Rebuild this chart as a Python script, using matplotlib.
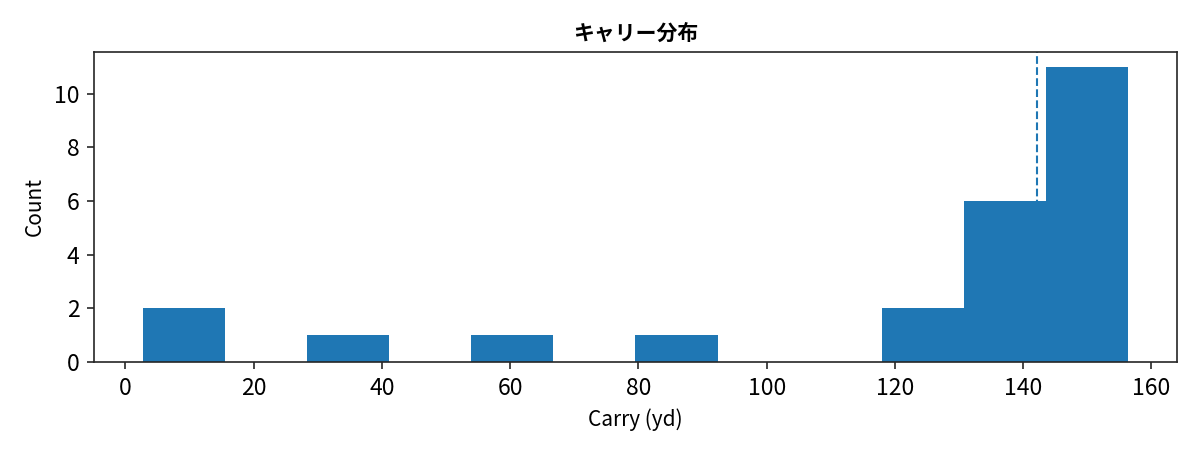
import matplotlib
matplotlib.use("Agg")
import matplotlib.pyplot as plt
import numpy as np

plt.rcParams['font.family'] = ['Noto Sans CJK JP', 'DejaVu Sans']

bin_edges = [2.8 + i * (156.3 - 2.8) / 12 for i in range(13)]
counts = [2, 0, 1, 0, 1, 0, 1, 0, 0, 2, 6, 11]
marker_x = 142.1

title = "キャリー分布"
xlabel = "Carry (yd)"
ylabel = "Count"

fig = plt.figure(figsize=(8, 3), dpi=150)
ax = fig.add_axes([94/1200, 1 - 362/450, (1177-94)/1200, (362-52)/450])

edges = np.array(bin_edges)
ax.hist(edges[:-1], bins=edges, weights=counts, color="#1f77b4", zorder=2)
ax.axvline(marker_x, color="#1f77b4", linestyle="--", linewidth=1.0, zorder=1)

ax.set_xlim(-4.9, 164.0)
ax.set_ylim(0, 11.55)
ax.set_title(title, fontsize=10, fontweight="bold")
ax.set_xlabel(xlabel, fontsize=10)
ax.set_ylabel(ylabel, fontsize=10)
ax.tick_params(labelsize=11, color="#262626", labelcolor="black")
for s in ax.spines.values():
    s.set_color("#262626")

fig.savefig("out.png", dpi=150)
